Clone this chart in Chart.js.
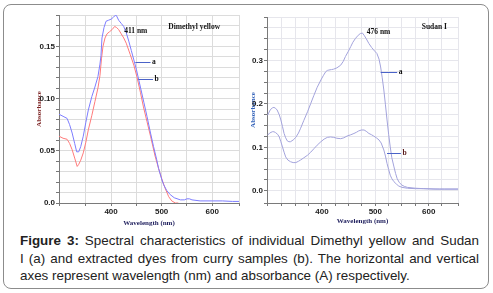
<!DOCTYPE html>
<html>
<head>
<meta charset="utf-8">
<script src="https://cdn.jsdelivr.net/npm/chart.js@4.4.1/dist/chart.umd.min.js"></script>
<style>
  body { margin: 0; background: #fff; }
  #page { position: relative; width: 493px; height: 293px; overflow: hidden; }
  #frame {
    position: absolute; left: 3px; top: 4px; width: 484px; height: 283px;
    border: 1px solid #8c8c8c; border-radius: 8px;
  }
  canvas { position: absolute; top: 0; }
  #caption {
    position: absolute; left: 20px; top: 232px; width: 459px;
    font: 13.4px "Liberation Sans", Arial, sans-serif; line-height: 17.6px;
    color: #222;
  }
  #caption div { white-space: nowrap; }
  #caption .full { text-align: justify; text-align-last: justify; }
</style>
</head>
<body>
<div id="page">
  <div id="frame"></div>
  <canvas id="dmyChart" width="245" height="232" style="left:0px"></canvas>
  <canvas id="sudanChart" width="245" height="232" style="left:245px"></canvas>
  <div id="caption">
    <div class="full"><b>Figure 3:</b> Spectral characteristics of individual Dimethyl yellow and Sudan</div>
    <div class="full">I (a) and extracted dyes from curry samples (b). The horizontal and vertical</div>
    <div>axes represent wavelength (nm) and absorbance (A) respectively.</div>
  </div>
</div>
<script>
// Dimethyl yellow, curve a (standard) and b (curry extract)
const dmyWavelengthA = [297, 305, 313, 318, 323, 328, 332, 336, 340, 345, 350, 355, 362, 368, 374, 378, 380, 382, 386, 390, 395, 400, 405, 409, 411, 415, 420, 425, 430, 435, 440, 445, 450, 458, 465, 471, 478, 484, 490, 494, 500, 504, 510, 517, 525, 537, 545, 550, 555, 560, 576, 600, 620, 640, 653];
const dmyAbsA = [0.085, 0.083, 0.081, 0.075, 0.067, 0.057, 0.049, 0.049, 0.054, 0.064, 0.077, 0.089, 0.102, 0.111, 0.121, 0.133, 0.141, 0.158, 0.168, 0.174, 0.175, 0.176, 0.178, 0.180, 0.179, 0.175, 0.172, 0.169, 0.163, 0.155, 0.146, 0.137, 0.128, 0.111, 0.096, 0.083, 0.067, 0.054, 0.042, 0.033, 0.023, 0.0175, 0.012, 0.008, 0.005, 0.003, 0.003, 0.004, 0.004, 0.003, 0.002, 0.002, 0.002, 0.0015, 0.0015];
const dmyWavelengthB = [297, 305, 313, 318, 323, 328, 333, 336, 340, 345, 350, 355, 362, 368, 374, 378, 381, 384, 388, 392, 397, 402, 407, 411, 415, 420, 425, 430, 438, 445, 451, 458, 464, 471, 478, 487, 494, 501, 507, 514, 520, 527, 533];
const dmyAbsB = [0.064, 0.062, 0.061, 0.057, 0.051, 0.043, 0.035, 0.037, 0.041, 0.048, 0.058, 0.070, 0.084, 0.097, 0.110, 0.122, 0.138, 0.150, 0.158, 0.162, 0.164, 0.166, 0.169, 0.168, 0.166, 0.162, 0.158, 0.153, 0.142, 0.132, 0.121, 0.106, 0.092, 0.078, 0.064, 0.045, 0.033, 0.022, 0.014, 0.006, 0.002, 0.0, 0.0];

// Sudan I, curve a (standard) and b (curry extract)
const sudanWavelengthA = [298, 303, 307, 310, 313, 316, 320, 323, 326, 329, 332, 335, 338, 341, 346, 351, 356, 360, 366, 373, 379, 385, 391, 398, 403, 407, 410, 413, 418, 422, 428, 435, 440, 444, 449, 454, 458, 463, 468, 472, 476, 479, 483, 488, 493, 497, 500, 503, 507, 510, 513, 516, 519, 522, 525, 528, 531, 535, 538, 541, 545, 550, 555, 560, 575, 591, 610, 630, 655];
const sudanAbsA = [0.174, 0.186, 0.191, 0.192, 0.190, 0.186, 0.175, 0.163, 0.148, 0.132, 0.122, 0.115, 0.113, 0.113, 0.117, 0.123, 0.133, 0.144, 0.162, 0.182, 0.201, 0.220, 0.238, 0.255, 0.266, 0.274, 0.277, 0.278, 0.279, 0.280, 0.283, 0.289, 0.298, 0.309, 0.320, 0.332, 0.342, 0.351, 0.358, 0.362, 0.363, 0.358, 0.350, 0.339, 0.330, 0.324, 0.320, 0.316, 0.303, 0.285, 0.260, 0.232, 0.198, 0.163, 0.130, 0.101, 0.076, 0.055, 0.040, 0.028, 0.019, 0.013, 0.010, 0.008, 0.006, 0.005, 0.004, 0.004, 0.004];
const sudanWavelengthB = [298, 302, 307, 310, 313, 317, 320, 323, 326, 329, 332, 336, 341, 346, 351, 356, 360, 366, 373, 379, 385, 391, 398, 404, 410, 416, 422, 428, 435, 441, 447, 454, 460, 465, 469, 474, 479, 483, 488, 493, 497, 502, 507, 511, 516, 519, 522, 525, 528, 531, 535, 540, 544, 550, 560, 575, 591, 620, 655];
const sudanAbsB = [0.128, 0.133, 0.136, 0.136, 0.134, 0.130, 0.124, 0.113, 0.101, 0.089, 0.078, 0.071, 0.067, 0.065, 0.065, 0.068, 0.071, 0.076, 0.082, 0.089, 0.097, 0.105, 0.113, 0.119, 0.123, 0.124, 0.123, 0.121, 0.120, 0.122, 0.126, 0.129, 0.132, 0.135, 0.138, 0.140, 0.140, 0.137, 0.132, 0.129, 0.126, 0.122, 0.117, 0.110, 0.094, 0.080, 0.063, 0.049, 0.036, 0.028, 0.021, 0.015, 0.011, 0.008, 0.006, 0.005, 0.005, 0.004, 0.004];

const toPoints = (xs, ys) => xs.map((x, i) => ({ x: x, y: ys[i] }));

const serif = "'Liberation Serif', 'Times New Roman', serif";
const sans = "'Liberation Sans', Arial, sans-serif";

// draws the peak / name labels and the little a, b leader lines
const notesPlugin = {
  id: "notes",
  afterDatasetsDraw(chart, args, opts) {
    const ctx = chart.ctx;
    const xs = chart.scales.x;
    const ys = chart.scales.y;
    ctx.save();
    ctx.font = "bold 7.5px " + serif;
    ctx.textBaseline = "middle";
    (opts.texts || []).forEach((t) => {
      ctx.fillStyle = t.color || "#111";
      ctx.fillText(t.text, xs.getPixelForValue(t.x), ys.getPixelForValue(t.y));
    });
    (opts.leaders || []).forEach((l) => {
      const y = Math.round(ys.getPixelForValue(l.y)) + 0.5;
      ctx.strokeStyle = "#4a63c8";
      ctx.lineWidth = 1;
      ctx.beginPath();
      ctx.moveTo(xs.getPixelForValue(l.x1), y);
      ctx.lineTo(xs.getPixelForValue(l.x2), y);
      ctx.stroke();
      ctx.fillStyle = l.color || "#111";
      ctx.fillText(l.label, xs.getPixelForValue(l.x2) + 1.5, y);
    });
    ctx.restore();
  },
};

function makeChart(id, cfg) {
  return new Chart(document.getElementById(id), {
    type: "line",
    data: {
      datasets: cfg.series.map((s) => ({
        data: s.points,
        borderColor: s.color,
        borderWidth: 1,
        pointRadius: 0,
        tension: 0,
        fill: false,
      })),
    },
    options: {
      responsive: false,
      animation: false,
      events: [],
      layout: { padding: cfg.padding },
      plugins: {
        legend: { display: false },
        tooltip: { enabled: false },
        notes: cfg.notes,
      },
      scales: {
        x: {
          type: "linear",
          min: cfg.xMin,
          max: cfg.xMax,
          afterFit: (s) => { s.height = cfg.xHeight; },
          grid: { color: cfg.gridColor, tickLength: 3, tickColor: "#777" },
          border: { color: "#7a7a7a" },
          ticks: {
            stepSize: cfg.xStep,
            padding: 1,
            maxRotation: 0,
            autoSkip: false,
            color: "#222",
            font: { family: sans, size: 8, weight: "bold" },
            callback: (v) => ([400, 500, 600].includes(v) ? String(v) : ""),
          },
          title: {
            display: true,
            text: "Wavelength (nm)",
            color: "#1d1d5c",
            font: { family: serif, size: 7, weight: "bold" },
            padding: { top: 0, bottom: cfg.xTitlePad },
          },
        },
        y: {
          min: cfg.yMin,
          max: cfg.yMax,
          afterFit: (s) => { s.width = cfg.yWidth; },
          grid: { color: cfg.gridColor, tickLength: 3, tickColor: "#777" },
          border: { color: "#7a7a7a" },
          ticks: {
            stepSize: cfg.yStep,
            padding: 1,
            autoSkip: false,
            color: "#222",
            font: { family: sans, size: 8, weight: "bold" },
            callback: cfg.yLabel,
          },
          title: {
            display: true,
            text: "Absorbance",
            color: cfg.yTitleColor,
            font: { family: serif, size: 7, weight: "bold" },
            padding: { top: cfg.yTitlePad, bottom: 0 },
          },
        },
      },
    },
    plugins: [notesPlugin],
  });
}

const near = (v, step) => Math.abs(v / step - Math.round(v / step)) < 1e-6;

makeChart("dmyChart", {
  series: [
    { points: toPoints(dmyWavelengthA, dmyAbsA), color: "#7d7dff" },
    { points: toPoints(dmyWavelengthB, dmyAbsB), color: "#ff7a7a" },
  ],
  padding: { left: 0, top: 15, right: 6, bottom: 0 },
  xMin: 297, xMax: 653, xStep: 50, xHeight: 29, xTitlePad: 5,
  yMin: 0, yMax: 0.18, yStep: 0.01, yWidth: 59, yTitlePad: 35,
  gridColor: "#dcdcdc",
  yTitleColor: "#7a1f1f",
  yLabel: (v) => {
    if (v < -1e-9 || !near(v, 0.05)) return "";
    return v === 0 ? "0.0" : v.toFixed(2);
  },
  notes: {
    texts: [
      { text: "411 nm", x: 426, y: 0.165 },
      { text: "Dimethyl yellow", x: 513, y: 0.1685 },
    ],
    leaders: [
      { x1: 448, x2: 478, y: 0.1353, label: "a" },
      { x1: 454, x2: 483, y: 0.1187, label: "b" },
    ],
  },
});

makeChart("sudanChart", {
  series: [
    { points: toPoints(sudanWavelengthA, sudanAbsA), color: "#a3a3dc" },
    { points: toPoints(sudanWavelengthB, sudanAbsB), color: "#a3a3dc" },
  ],
  padding: { left: 0, top: 17, right: 32, bottom: 0 },
  xMin: 297, xMax: 655, xStep: 25, xHeight: 29, xTitlePad: 7,
  yMin: -0.028, yMax: 0.4, yStep: 0.025, yWidth: 22, yTitlePad: 3.5,
  gridColor: "#e6e6ec",
  yTitleColor: "#2f5fb8",
  yLabel: (v) => {
    if (v < -1e-9 || !near(v, 0.1) || v > 0.35) return "";
    return v.toFixed(1);
  },
  notes: {
    texts: [
      { text: "476 nm", x: 484, y: 0.365 },
      { text: "Sudan I", x: 587, y: 0.376 },
    ],
    leaders: [
      { x1: 510, x2: 541, y: 0.274, label: "a" },
      { x1: 522, x2: 548, y: 0.0861, label: "b", color: "#5a1a1a" },
    ],
  },
});
</script>
</body>
</html>
